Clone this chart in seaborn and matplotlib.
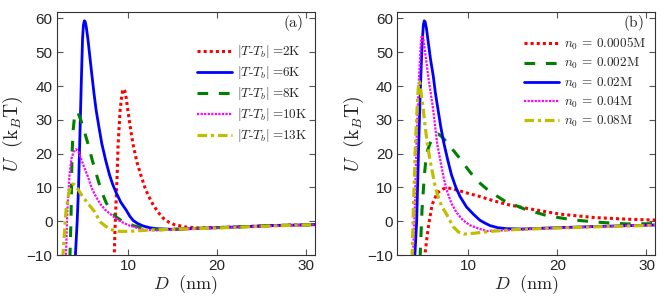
import matplotlib.pyplot as plt
import numpy as np
import pandas as pd
import seaborn as sns

# ---- panel (a): different |T - Tb| ----
D_2K = [8.45, 8.55, 8.7, 8.78, 8.9, 9.12, 9.3, 9.4, 9.53, 9.65, 9.8, 9.98, 10.25, 10.55, 11.0, 11.5, 11.9, 12.3,
        12.8, 13.4, 14.0, 14.6, 15.2, 16.5, 18, 22, 26, 31]
U_2K = [-11, -2, 8, 13.2, 23, 32.9, 37, 38.6, 39.1, 38.5, 36.5, 33, 28, 23, 17.5, 13.2, 10, 7.5,
        5, 2.6, 0.8, -0.3, -1.0, -1.7, -2.0, -1.7, -1.3, -1.0]

D_6K = [4.08, 4.3, 4.45, 4.6, 4.75, 4.9, 5.0, 5.1, 5.2, 5.3, 5.5, 5.75, 5.97, 6.2, 6.42, 6.7, 7.06, 7.5, 7.92,
        8.3, 8.7, 9.2, 9.8, 10.2, 10.6, 11.1, 11.7, 12.4, 13.2, 15, 18, 22, 26, 31]
U_6K = [-11, 0, 10, 25, 40, 54, 58, 59.3, 59, 57.8, 54, 48, 42.8, 37.5, 33, 28.5, 23, 18, 13.8,
        10.8, 8.3, 5.6, 3.3, 1.5, 0.2, -0.7, -1.4, -1.9, -2.2, -2.4, -2.1, -1.7, -1.3, -1.0]

D_8K = [3.48, 3.6, 3.72, 3.85, 3.98, 4.1, 4.25, 4.4, 4.7, 5.0, 5.5, 6.0, 6.5, 7.0, 7.55, 8.1, 8.75, 9.5,
        10.6, 12.1, 14, 18, 22, 26, 31]
U_8K = [-11, 0, 20, 27, 30.5, 32, 32.4, 32, 30, 27.5, 23, 18, 13.5, 9, 5.5, 3, 1.1, -0.2,
        -1.3, -2.3, -2.5, -2.1, -1.7, -1.3, -1.0]

D_10K = [3.03, 3.2, 3.42, 3.65, 3.9, 4.17, 4.45, 4.8, 5.15, 5.5, 5.9, 6.4, 6.9, 7.4, 7.9, 8.75, 9.5, 10.2,
         11.7, 13, 16, 20, 25, 31]
U_10K = [-11, 3.3, 13.2, 18.5, 20.5, 21.3, 20.5, 18, 15.5, 13.2, 10, 7.3, 5.1, 3.5, 2.4, 0.6, -0.5, -1.3,
         -2.5, -2.7, -2.4, -2.0, -1.5, -1.0]

D_13K = [2.68, 3.05, 3.35, 3.6, 3.8, 4.0, 4.2, 4.5, 4.9, 5.5, 6.2, 6.9, 7.4, 8.0, 8.5, 9.1, 10, 12.5,
         16, 20, 25, 31]
U_13K = [-11, 3.3, 8.2, 10.5, 11, 10.8, 10.2, 9, 7.3, 5.3, 3.0, -0.2, -1.3, -2.3, -2.8, -3.0, -3.0, -2.6,
         -2.3, -2.0, -1.5, -1.0]

# ---- panel (b): different salt concentration n0 ----
D_0005 = [5.08, 5.3, 5.56, 5.94, 6.5, 6.9, 7.2, 7.6, 8.1, 9.0, 9.8, 11.3, 12.9, 14.3, 16.6, 20.3, 24.1, 27.9, 31]
U_0005 = [-11, -6, -0.8, 5.0, 8.3, 9.2, 9.6, 9.8, 9.7, 9.0, 8.4, 7.3, 6.0, 5.0, 3.8, 2.1, 1.1, 0.6, 0.35]

D_002 = [4.58, 4.8, 5.05, 5.3, 5.7, 6.0, 6.3, 6.6, 6.9, 7.2, 7.6, 8.0, 9.07, 10.2, 11.2, 12.3, 14.0, 16.3,
         18.9, 21.9, 24.9, 27.9, 31]
U_002 = [-11, 3.3, 13.2, 20, 23, 24.5, 25.4, 25.8, 25.3, 24.5, 23.3, 22, 18.5, 14.5, 11.5, 9.0, 6.1, 3.6,
         1.6, 0.35, -0.35, -0.8, -0.7]

D_02 = [3.98, 4.2, 4.4, 4.6, 4.8, 4.95, 5.05, 5.15, 5.3, 5.5, 5.75, 6.06, 6.3, 6.6, 6.9, 7.26, 7.7, 8.1,
        8.6, 9.07, 9.8, 10.6, 11.3, 11.9, 12.45, 13.3, 14.3, 16, 20, 25, 31]
U_02 = [-11, 0, 20, 38, 52, 58, 59.3, 59, 57, 53, 48, 43, 38, 33, 28, 23, 18, 13.8,
        10, 7.3, 4.2, 2.0, 0.3, -0.6, -1.3, -1.9, -2.2, -2.3, -1.9, -1.5, -1.1]

D_04 = [3.78, 4.0, 4.2, 4.45, 4.65, 4.75, 4.85, 4.95, 5.1, 5.3, 5.5, 5.8, 6.06, 6.5, 7.2, 7.6, 8.1, 8.7,
        9.4, 10.2, 11.3, 12.1, 14, 17, 21, 26, 31]
U_04 = [-11, 5, 25, 42, 52, 54.5, 55, 54, 51, 47, 42.8, 37.5, 32.9, 23, 13.2, 9, 5.3, 2.5,
        0.3, -1.2, -2.3, -2.9, -2.7, -2.3, -1.9, -1.5, -1.1]

D_08 = [3.68, 3.85, 4.05, 4.3, 4.4, 4.5, 4.6, 4.7, 4.95, 5.15, 5.4, 5.7, 6.06, 6.3, 6.6, 7.0, 7.57, 8.3,
        8.9, 9.5, 10.5, 12.5, 15, 20, 25, 31]
U_08 = [-11, 5, 22, 36, 40, 41.3, 40.5, 38, 32.9, 28, 23, 18, 13.2, 10, 7.3, 4.5, 2.0, -1.6,
        -3.2, -3.8, -3.6, -3.0, -2.5, -2.0, -1.6, -1.2]

labels_a = [r'$|T\text{-}T_b|\;\text{=2K}$', r'$|T\text{-}T_b|\;\text{=6K}$',
            r'$|T\text{-}T_b|\;\text{=8K}$', r'$|T\text{-}T_b|\;\text{=10K}$',
            r'$|T\text{-}T_b|\;\text{=13K}$']
labels_b = [r'$n_0\,=\,0.0005\mathrm{M}$', r'$n_0\,=\,0.002\mathrm{M}$',
            r'$n_0\,=\,0.02\mathrm{M}$', r'$n_0\,=\,0.04\mathrm{M}$',
            r'$n_0\,=\,0.08\mathrm{M}$']

# line styles (matlab-ish colours)
RED = dict(color='#ff0000', lw=2.2, ls=(0, (1, 1)))
BLUE = dict(color='#0000ff', lw=2.0, ls='-')
GREEN = dict(color='#008000', lw=2.2, ls=(0, (3.5, 3.5)))
MAGENTA = dict(color='#ff00ff', lw=1.6, ls=(0, (1, 0.6)))
YELLOW = dict(color='#bfbf00', lw=2.3, ls=(0, (3, 1.2, 1, 1.2)))

curves_a = [(D_2K, U_2K, RED), (D_6K, U_6K, BLUE), (D_8K, U_8K, GREEN),
            (D_10K, U_10K, MAGENTA), (D_13K, U_13K, YELLOW)]
curves_b = [(D_0005, U_0005, RED), (D_002, U_002, GREEN), (D_02, U_02, BLUE),
            (D_04, U_04, MAGENTA), (D_08, U_08, YELLOW)]

sns.set_style('white')
plt.rcParams['font.family'] = ['Liberation Sans', 'DejaVu Sans']
plt.rcParams['mathtext.fontset'] = 'cm'

fig = plt.figure(figsize=(6.64, 2.99), dpi=100)
ax_a = fig.add_axes([0.0854, 0.147, 0.389, 0.814])
ax_b = fig.add_axes([0.598, 0.147, 0.389, 0.814])

panels = [(ax_a, curves_a, labels_a, '(a)', (0.97, 0.87)),
          (ax_b, curves_b, labels_b, '(b)', (0.965, 0.90))]

for ax, curves, labels, tag, anchor in panels:
    for (D, U, st), lab in zip(curves, labels):
        df = pd.DataFrame({'D': D, 'U': U})
        sns.lineplot(data=df, x='D', y='U', ax=ax, sort=False, estimator=None,
                     color=st['color'], linewidth=st['lw'], linestyle=st['ls'],
                     label=lab)
    ax.set_xlim(2, 31)
    ax.set_ylim(-10, 62)
    ax.set_xticks([10, 20, 30])
    ax.set_yticks(np.arange(-10, 61, 10))
    ax.tick_params(direction='in', bottom=True, left=True, top=True, right=True,
                   length=4, width=0.8, color='#555555', labelsize=11, pad=3)
    for sp in ax.spines.values():
        sp.set_color('#333333')
        sp.set_linewidth(0.8)
    ax.set_xlabel(r'$D\ \ (\mathrm{nm})$', fontsize=13, labelpad=0)
    ax.set_ylabel(r'$U\ \ (\mathrm{k}_B\mathrm{T})$', fontsize=14, labelpad=1)
    ax.text(0.915, 0.955, r'$\mathrm{' + tag + '}$', transform=ax.transAxes,
            ha='center', va='center', fontsize=11)
    ax.legend(loc='upper right', bbox_to_anchor=anchor, frameon=False,
              fontsize=9.5, handlelength=2.6, handletextpad=0.4,
              labelspacing=0.3, borderpad=0, borderaxespad=0)

fig.savefig('out.png', dpi=100)
